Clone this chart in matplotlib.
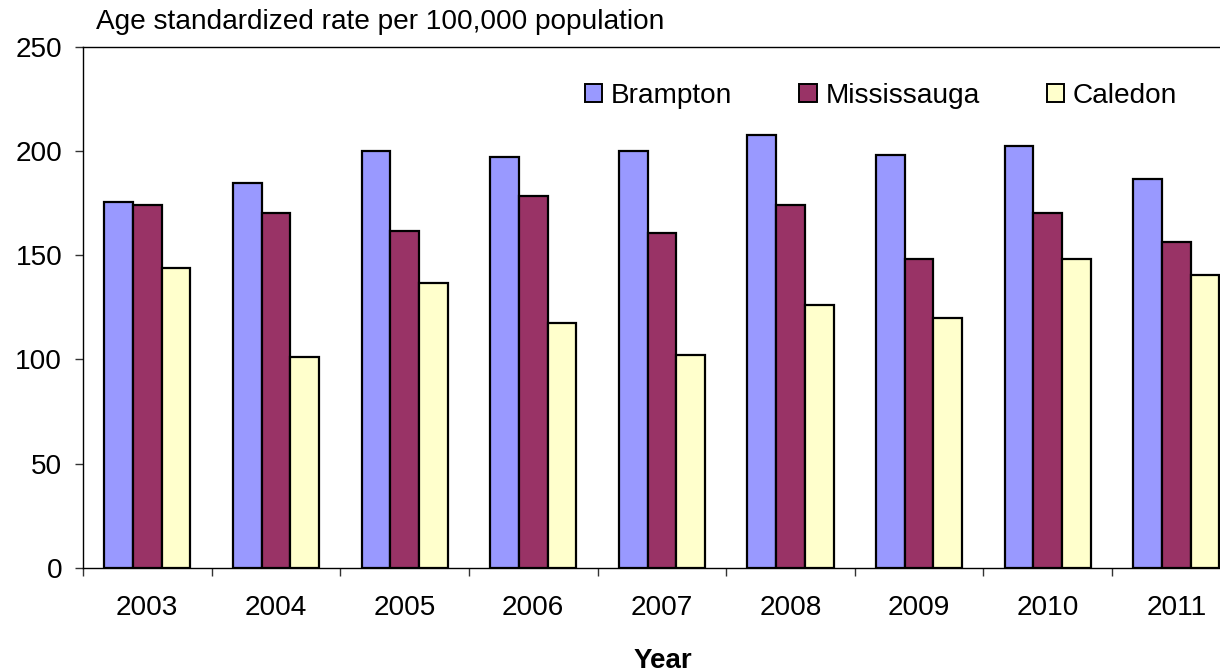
import numpy as np
import matplotlib
matplotlib.use("Agg")
import matplotlib.pyplot as plt

plt.rcParams['font.family'] = ['Liberation Sans', 'DejaVu Sans']

years = ["2003", "2004", "2005", "2006", "2007", "2008", "2009", "2010", "2011"]
brampton = [175.3, 184.6, 200.1, 197.3, 200.1, 207.7, 198.1, 202.5, 186.7]
mississauga = [174.2, 170.2, 161.7, 178.2, 160.5, 174.2, 148.0, 170.0, 156.3]
caledon = [144.0, 101.3, 136.5, 117.6, 102.1, 126.1, 119.7, 148.2, 140.6]

series = [("Brampton", brampton, "#9999FF"),
          ("Mississauga", mississauga, "#993366"),
          ("Caledon", caledon, "#FFFFCC")]

fig = plt.figure(figsize=(12.2, 6.72), dpi=100)
ax = fig.add_axes([0.068, 0.1552, 0.949, 0.7753])

x = np.arange(len(years))
w = 0.223
for i, (name, vals, col) in enumerate(series):
    ax.bar(x + (i - 1) * w, vals, w, color=col, edgecolor="black",
           linewidth=1.6, label=name, zorder=3)

ax.set_xlim(-0.5, len(years) - 0.5)
ax.set_ylim(0, 250)
ax.set_yticks(range(0, 251, 50))

# tick marks sit between the year groups, labels at the group centres
ax.set_xticks(np.arange(-0.5, len(years), 1.0))
ax.set_xticklabels([])
ax.set_xticks(x, minor=True)
ax.set_xticklabels(years, minor=True)
ax.tick_params(axis="x", which="major", direction="out", length=6, width=1, color="#333333")
ax.tick_params(axis="x", which="minor", length=0, pad=20, labelsize=20.2)
ax.tick_params(axis="y", direction="out", length=6, width=1, color="#333333",
               pad=9, labelsize=20.2)

for sp in ax.spines.values():
    sp.set_linewidth(1.0)
    sp.set_color("black")

fig.text(0.0787, 0.967, "Age standardized rate per 100,000 population",
         fontsize=20.2, va="center", ha="left")
fig.text(0.5434, 0.006, "Year", fontsize=20, fontweight="bold",
         ha="center", va="baseline")

leg = ax.legend(loc="center right", bbox_to_anchor=(0.9648, 0.857),
                bbox_transform=fig.transFigure, ncol=3, frameon=False,
                fontsize=20.2, borderpad=0, borderaxespad=0,
                handlelength=0.62, handleheight=0.62, handletextpad=0.3,
                columnspacing=2.4)
for h in leg.legend_handles:
    h.set_linewidth(1.4)

fig.savefig("out.png", dpi=100)
